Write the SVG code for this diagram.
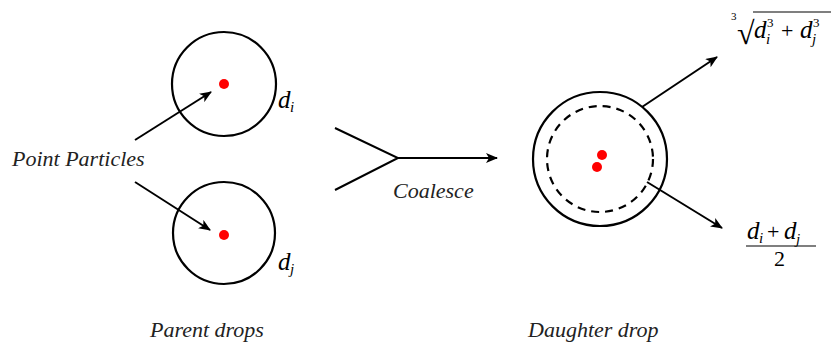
<svg xmlns="http://www.w3.org/2000/svg" width="831" height="351" viewBox="0 0 831 351" font-family="'Times New Roman', 'Liberation Serif', 'DejaVu Serif', serif">
<defs>
<marker id="a" viewBox="0 0 12 10" refX="11" refY="5" markerWidth="12" markerHeight="10" markerUnits="userSpaceOnUse" orient="auto">
<path d="M0,0 L12,5 L0,10 L3,5 Z" fill="#000"/>
</marker>
</defs>
<g id="drop-i">
<circle cx="224" cy="84" r="52" fill="none" stroke="#000" stroke-width="2.2"/>
<circle cx="224" cy="84" r="5" fill="#f00"/>
<text x="278" y="108" font-style="italic" font-size="25">d</text>
<text x="290" y="112" font-style="italic" font-size="15">i</text>
</g>
<g id="drop-j">
<circle cx="224" cy="233" r="51" fill="none" stroke="#000" stroke-width="2.2"/>
<circle cx="224" cy="235" r="5" fill="#f00"/>
<text x="278" y="270" font-style="italic" font-size="25">d</text>
<text x="290" y="274" font-style="italic" font-size="15">j</text>
</g>
<g id="point-particles">
<text x="12" y="166" fill="#222" font-style="italic" font-size="22">Point Particles</text>
</g>
<g id="daughter">
<circle cx="600" cy="159" r="67" fill="none" stroke="#000" stroke-width="2.2"/>
<circle cx="600" cy="159" r="53" fill="none" stroke="#000" stroke-width="2.2" stroke-dasharray="8,6"/>
<circle cx="602" cy="155" r="5" fill="#f00"/>
<circle cx="597" cy="167" r="5" fill="#f00"/>
</g>
<g id="cube-root-label">
<text x="731" y="20" font-size="11">3</text>
<text x="737" y="44" font-size="32">√</text>
<line x1="753" y1="12" x2="831" y2="12" stroke="#000" stroke-width="1.2"/>
<text x="754" y="38" font-style="italic" font-size="25">d</text>
<text x="766" y="44" font-style="italic" font-size="15">i</text>
<text x="767" y="27" font-size="13">3</text>
<text x="781" y="38" font-size="22">+</text>
<text x="800" y="38" font-style="italic" font-size="25">d</text>
<text x="812" y="44" font-style="italic" font-size="15">j</text>
<text x="813" y="27" font-size="13">3</text>
</g>
<g id="mean-label">
<text x="747" y="239" font-style="italic" font-size="25">d</text>
<text x="759" y="243" font-style="italic" font-size="15">i</text>
<text x="767" y="239" font-size="22">+</text>
<text x="784" y="239" font-style="italic" font-size="25">d</text>
<text x="796" y="244" font-style="italic" font-size="15">j</text>
<line x1="746" y1="246" x2="816" y2="246" stroke="#000" stroke-width="1.2"/>
<text x="774" y="266" font-size="22">2</text>
</g>
<g id="captions">
<text x="150" y="337" fill="#222" font-style="italic" font-size="22">Parent drops</text>
<text x="528" y="337" fill="#222" font-style="italic" font-size="22">Daughter drop</text>
<text x="393" y="198" fill="#222" font-style="italic" font-size="22">Coalesce</text>
</g>
<g id="connectors" stroke="#000" stroke-width="2" fill="none">
<line x1="135" y1="140" x2="211" y2="92" marker-end="url(#a)"/>
<line x1="135" y1="182" x2="210" y2="230" marker-end="url(#a)"/>
<polyline points="335,128 398,158 335,190"/>
<line x1="398" y1="158" x2="497" y2="158" marker-end="url(#a)"/>
<line x1="642" y1="107" x2="717" y2="57" marker-end="url(#a)"/>
<line x1="647" y1="182" x2="722" y2="228" marker-end="url(#a)"/>
</g>
</svg>
